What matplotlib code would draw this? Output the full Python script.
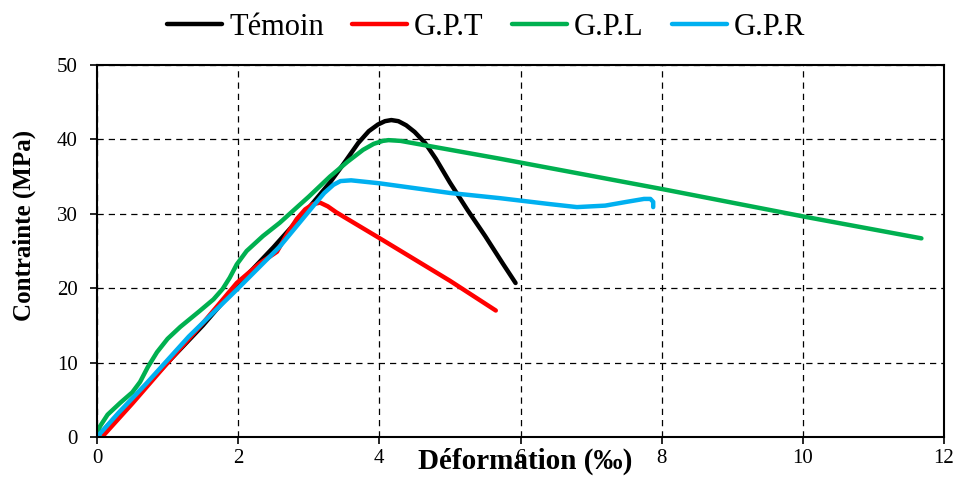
import matplotlib
matplotlib.use('Agg')
from matplotlib import pyplot as plt

# Témoin
x_temoin = [0, 0.5, 1.0, 1.5, 2.0, 2.5, 3.0, 3.3, 3.5, 3.7, 3.85, 3.98, 4.08, 4.17, 4.27, 4.38, 4.5, 4.65, 4.8, 5.0, 5.25, 5.5, 5.75, 5.93]
y_temoin = [0, 5.0, 10, 15, 20.5, 25.5, 30.8, 34.2, 36.8, 39.5, 41.1, 42.0, 42.45, 42.6, 42.45, 41.9, 41.0, 39.5, 37.4, 34.2, 30.5, 27.0, 23.3, 20.7]

# G.P.T
x_gpt = [0.1, 0.5, 1.03, 1.5, 1.98, 2.3, 2.55, 2.7, 2.83, 2.95, 3.06, 3.16, 3.27, 3.39, 4.06, 5.0, 5.65]
y_gpt = [0.3, 4.5, 10.3, 15.3, 20.7, 23.3, 24.9, 27.4, 29.3, 30.6, 31.3, 31.5, 31.0, 30.2, 26.4, 21.0, 17.0]

# G.P.L
x_gpl = [0, 0.04, 0.15, 0.33, 0.5, 0.61, 0.72, 0.85, 1.0, 1.18, 1.45, 1.65, 1.78, 1.88, 1.98, 2.12, 2.35, 2.59, 3.0, 3.30, 3.55, 3.77, 3.92, 4.05, 4.13, 4.3, 5.71, 8.02, 10.03, 11.68]
y_gpl = [0, 1.4, 3.0, 4.6, 6.0, 7.4, 9.4, 11.4, 13.2, 14.8, 16.9, 18.5, 19.9, 21.4, 23.2, 25.0, 27.0, 28.8, 32.3, 35.0, 37.0, 38.6, 39.4, 39.8, 39.9, 39.8, 37.4, 33.3, 29.6, 26.7]

# G.P.R
x_gpr = [0, 0.3, 0.7, 1.3, 1.98, 2.59, 3.06, 3.22, 3.35, 3.45, 3.6, 4.0, 5.0, 5.71, 6.42, 6.8, 7.2, 7.5, 7.75, 7.84, 7.88, 7.88]
y_gpr = [0, 3.2, 7.2, 13.5, 19.8, 25.6, 31.0, 32.8, 33.9, 34.4, 34.5, 34.1, 32.8, 32.1, 31.3, 30.9, 31.1, 31.6, 32.0, 32.0, 31.6, 30.9]

x_ticks = [0, 2, 4, 6, 8, 10, 12]
y_ticks = [0, 10, 20, 30, 40, 50]

plt.rcParams['font.family'] = ['Liberation Serif', 'DejaVu Serif']

fig = plt.figure(figsize=(9.57, 4.83), dpi=100)
ax = fig.add_axes([97 / 957, 1 - 437 / 483, (944 - 97) / 957, (437 - 65) / 483])

series = [
  (x_temoin, y_temoin, '#000000', 'Témoin'),
  (x_gpt, y_gpt, '#FF0000', 'G.P.T'),
  (x_gpl, y_gpl, '#00B050', 'G.P.L'),
  (x_gpr, y_gpr, '#00B0F0', 'G.P.R'),
]
for xs, ys, c, lab in series:
  ax.plot(xs, ys, color=c, linewidth=3.2, label=lab, solid_capstyle='round', solid_joinstyle='round')

ax.set_xlim(0, 12)
ax.set_ylim(0, 50)
ax.set_xticks(x_ticks)
ax.set_yticks(y_ticks)
ax.grid(True, color='black', linestyle=(0, (5, 4)), linewidth=0.9)
ax.set_axisbelow(True)
for s in ax.spines.values():
  s.set_linewidth(1.5)
ax.tick_params(direction='out', length=5, width=1.2, labelsize=15)
ax.tick_params(axis='y', pad=9)

ax.set_xlabel('Déformation (‰)', fontsize=21, fontweight='bold')
ax.xaxis.set_label_coords(0.505, -0.03)
ax.set_ylabel('Contrainte (MPa)', fontsize=18, fontweight='bold')
ax.yaxis.set_label_coords(-0.072, 0.57)

fig.legend(loc='upper center', bbox_to_anchor=(486 / 957, 1.03), ncol=4, frameon=False,
           fontsize=22, handlelength=1.8, handletextpad=0.23, columnspacing=0.92)

fig.savefig('out.png', dpi=100)
